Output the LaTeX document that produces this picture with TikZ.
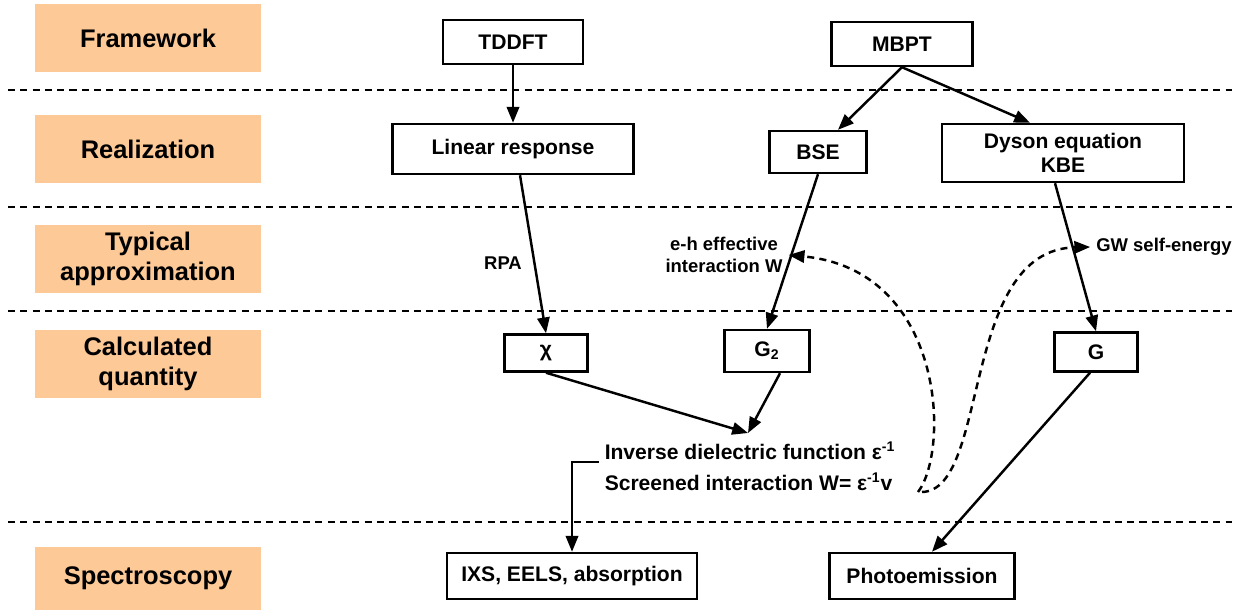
\documentclass[tikz,border=0pt]{standalone}
\usepackage{fontspec}
\setmainfont{Liberation Sans}
\usetikzlibrary{positioning,arrows.meta}
\definecolor{peach}{RGB}{253,201,150}

\begin{document}
\begin{tikzpicture}[x=0.02cm,y=-0.02cm,
		stage/.style={fill=peach, minimum width=4.54cm, minimum height=1.36cm, align=center, font=\bfseries\fontsize{14.5}{17}\selectfont},
		box/.style={draw, line width=1.4pt, align=center, inner sep=2pt, font=\bfseries\fontsize{12}{14}\selectfont},
		note/.style={align=center, font=\bfseries\fontsize{10.5}{12.5}\selectfont},
		sep/.style={line width=1.6pt, dash pattern=on 4pt off 3pt},
		arr/.style={-{Triangle[length=9pt,width=7pt]}, line width=1.4pt},
		darr/.style={arr, dash pattern=on 4pt off 3pt}]
		\useasboundingbox (0,0) rectangle (1246,609);
		
		% stages on the left
		\node (s1) [stage] at (148,38)  {Framework};
		\node (s2) [stage] at (148,149) {Realization};
		\node (s3) [stage] at (148,259) {Typical\\approximation};
		\node (s4) [stage] at (148,364) {Calculated\\quantity};
		\node (s5) [stage, minimum height=1.26cm] at (148,578) {Spectroscopy};
		
		% separators
		\foreach \y in {90,207,311,522}
			\draw[sep] (8,\y) -- (1232,\y);
		
		% boxes
		\node (tddft)  [box, minimum width=2.8cm,  minimum height=0.88cm] at (513,42)  {TDDFT};
		\node (mbpt)   [box, minimum width=2.82cm, minimum height=0.88cm] at (902,44)  {MBPT};
		\node (linres) [box, minimum width=4.82cm, minimum height=1cm]    at (513,149) {Linear response};
		\node (bse)    [box, minimum width=1.94cm, minimum height=0.84cm] at (818,152) {BSE};
		\node (dyson)  [box, minimum width=4.84cm, minimum height=1.16cm] at (1063,153) {Dyson equation\\KBE};
		\node (chi)    [box, minimum width=1.66cm, minimum height=0.74cm] at (546,353) {χ};
		\node (g2)     [box, minimum width=1.7cm,  minimum height=0.84cm] at (767,351) {G\textsubscript{2}};
		\node (g)      [box, minimum width=1.66cm, minimum height=0.78cm] at (1096,352) {G};
		\node (ixs)    [box, minimum width=5cm,  minimum height=0.92cm] at (572,576) {IXS, EELS, absorption};
		\node (photo)  [box, minimum width=3.7cm, minimum height=0.92cm] at (922,576) {Photoemission};
		\node (inv) [align=left, font=\bfseries\fontsize{12}{17.6}\selectfont] at (750,466)
			{Inverse dielectric function ε\textsuperscript{-1}\\Screened interaction W= ε\textsuperscript{-1}v};
		
		% labels
		\node (rpa) [note] at (503,263) {RPA};
		\node (eh)  [note] at (724,255) {e-h effective\\interaction W};
		\node (gw)  [note] at (1164,247) {GW self-energy};
		
		\coordinate (m)  at (748,433);
		\coordinate (c1) at (918,492);
		\coordinate (c2) at (922,492);
		
		% connectors
		\draw[arr] (tddft) -- (linres);
		\draw[arr] (mbpt.south) -- ([xshift=0.4cm]bse.north);
		\draw[arr] (mbpt.south) -- ([xshift=-0.66cm]dyson.north);
		\draw[arr] ([xshift=0.14cm]linres.south) -- (chi.north);
		\draw[arr] (bse.south) -- (g2.north);
		\draw[arr] ([xshift=-0.16cm]dyson.south) -- (g.north);
		\draw[arr] (chi.south) -- (m);
		\draw[arr] ([xshift=0.26cm]g2.south) -- (m);
		\draw[arr] ([yshift=0.08cm]inv.west) -| (ixs.north);
		\draw[arr] ([xshift=-0.12cm]g.south) -- ([xshift=0.2cm]photo.north);
		\draw[darr] (c1) .. controls (950,450) and (945,270) .. (eh.east);
		\draw[darr] (c2) .. controls (990,490) and (960,250) .. (gw.west);
	\end{tikzpicture}
\end{document}
